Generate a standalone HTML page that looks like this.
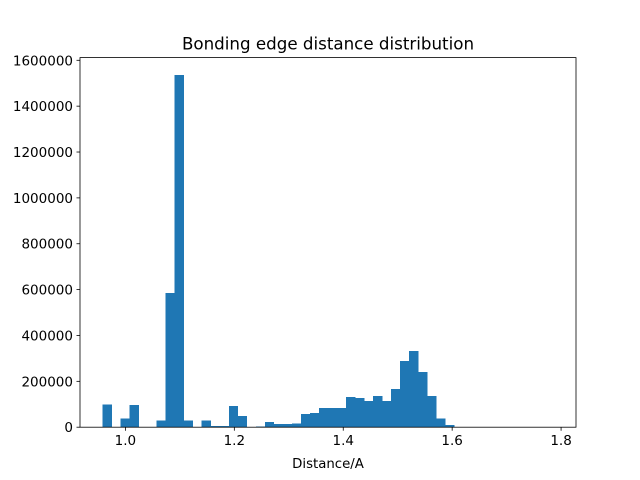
<!DOCTYPE html>
<html><head><meta charset="utf-8"><style>
body{margin:0;background:#fff;}
svg{display:block;font-family:"DejaVu Sans","Liberation Sans",sans-serif;}
</style></head><body>
<svg id="chart" width="640" height="480">
<text x="328" y="49.5" text-anchor="middle" font-size="16.7">Bonding edge distance distribution</text>
<g id="bars" shape-rendering="crispEdges"></g>
<rect x="80" y="57.6" width="496" height="369.6" fill="none" stroke="#000" stroke-width="0.8"/>
<g id="xticks"></g>
<g id="yticks"></g>
<text x="328" y="468" text-anchor="middle" font-size="13.3">Distance/A</text>
</svg>
<script>
const binStart = 0.958;
const binEnd = 1.786;
const counts = [100000,0,39000,96000,0,0,30000,585000,1535000,30000,0,30000,5000,5000,92000,48000,0,3000,22000,13000,13000,17000,57000,61000,83000,83000,83000,131000,127000,114000,135000,114000,166000,288000,332000,240000,135000,39000,9000,0,0,0,0,0,0,0,0,0,0,500];
const xTickLabels = ["1.0","1.2","1.4","1.6","1.8"];
const xTickValues = [1.0,1.2,1.4,1.6,1.8];
const yTickValues = [0,200000,400000,600000,800000,1000000,1200000,1400000,1600000];

const NS="http://www.w3.org/2000/svg";
const L=80,R=576,T=57.6,B=427.2;
const span=binEnd-binStart;
const xmin=binStart-0.05*span,xmax=binEnd+0.05*span;
const ymax=Math.max(...counts)*1.05;
const sx=v=>L+(v-xmin)/(xmax-xmin)*(R-L);
const sy=v=>B-v/ymax*(B-T);
const bw=span/counts.length;
const gb=document.getElementById('bars');
counts.forEach((c,i)=>{
  const r=document.createElementNS(NS,'rect');
  const x0=sx(binStart+i*bw),x1=sx(binStart+(i+1)*bw);
  r.setAttribute('x',x0);r.setAttribute('width',x1-x0+0.3);
  r.setAttribute('y',sy(c));r.setAttribute('height',B-sy(c));
  r.setAttribute('fill','#1f77b4');
  
  
  gb.appendChild(r);
});
const gx=document.getElementById('xticks');
xTickValues.forEach((v,i)=>{
  const x=sx(v);
  const l=document.createElementNS(NS,'line');
  l.setAttribute('x1',x);l.setAttribute('x2',x);l.setAttribute('y1',B);l.setAttribute('y2',B+3.5);
  l.setAttribute('stroke','#000');l.setAttribute('stroke-width','0.8');
  
  
  gx.appendChild(l);
  const t=document.createElementNS(NS,'text');
  t.setAttribute('x',x);t.setAttribute('y',B+18);t.setAttribute('text-anchor','middle');t.setAttribute('font-size','13.5');
  t.textContent=xTickLabels[i];
  
  
  gx.appendChild(t);
});
const gy=document.getElementById('yticks');
yTickValues.forEach(v=>{
  const y=sy(v);
  const l=document.createElementNS(NS,'line');
  l.setAttribute('x1',L-3.5);l.setAttribute('x2',L);l.setAttribute('y1',y);l.setAttribute('y2',y);
  l.setAttribute('stroke','#000');l.setAttribute('stroke-width','0.8');
  
  
  gy.appendChild(l);
  const t=document.createElementNS(NS,'text');
  t.setAttribute('x',L-7);t.setAttribute('y',y+5);t.setAttribute('text-anchor','end');t.setAttribute('font-size','13.5');
  t.textContent=String(v);
  
  
  gy.appendChild(t);
});
</script>
</body></html>
